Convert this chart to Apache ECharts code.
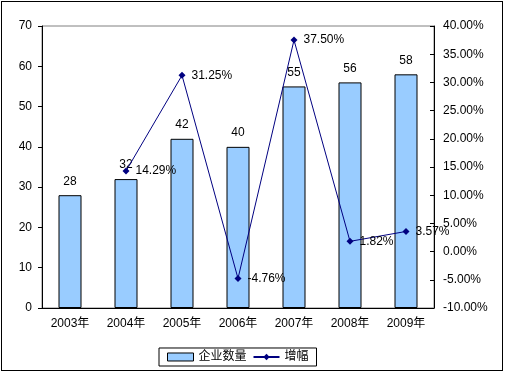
<!DOCTYPE html>
<html><head><meta charset="utf-8">
<script src="https://cdn.jsdelivr.net/npm/echarts@6/dist/echarts.min.js"></script>
<style>html,body{margin:0;padding:0;background:#fff}#c{position:absolute;left:1px;top:1px;width:502px;height:370px;border:1px solid #000;box-sizing:border-box}</style>
</head><body><div id="c"></div>
<script>
var categories = ['2003年','2004年','2005年','2006年','2007年','2008年','2009年'];
var companyCount = [28, 32, 42, 40, 55, 56, 58];
var growth = [null, 14.29, 31.25, -4.76, 37.50, 1.82, 3.57];
var seriesNames = ['企业数量', '增幅'];
var ff = '"Liberation Sans","Noto Sans CJK SC",Arial,sans-serif';
var chart = echarts.init(document.getElementById('c'), null, {renderer:'canvas'});
chart.setOption({
  animation:false,
  textStyle:{fontFamily:ff},
  grid:{left:40,right:68,top:24,bottom:62,show:true,borderColor:'#808080',borderWidth:1,backgroundColor:'transparent'},
  legend:{bottom:4,left:157,itemWidth:26,itemHeight:8,itemGap:6,padding:[3,8],
    borderColor:'#000',borderWidth:1,textStyle:{fontSize:12,color:'#000',fontFamily:ff},
    data:[{name:seriesNames[0],icon:'rect',itemStyle:{borderColor:'#000',borderWidth:1}},{name:seriesNames[1]}]},
  xAxis:{type:'category',data:categories,
    axisLine:{lineStyle:{color:'#000'}},
    axisTick:{inside:true,length:4,lineStyle:{color:'#000'}},
    axisLabel:{color:'#000',fontSize:12,margin:10,fontFamily:ff}},
  yAxis:[
    {type:'value',min:0,max:70,interval:10,position:'left',
     axisLine:{show:true,lineStyle:{color:'#000'}},
     axisTick:{show:true,length:4,lineStyle:{color:'#000'}},
     splitLine:{show:false},
     axisLabel:{color:'#000',fontSize:12,margin:10,fontFamily:ff}},
    {type:'value',min:-10,max:40,interval:5,position:'right',
     axisLine:{show:true,lineStyle:{color:'#000'}},
     axisTick:{show:true,inside:true,length:4,lineStyle:{color:'#000'}},
     splitLine:{show:false},
     axisLabel:{color:'#000',fontSize:12,margin:9,fontFamily:ff,formatter:function(v){return v.toFixed(2)+'%';}}}
  ],
  series:[
    {name:seriesNames[0],type:'bar',data:companyCount,yAxisIndex:0,barWidth:23,
     itemStyle:{color:'#99CCFF',borderColor:'#000',borderWidth:1},
     label:{show:true,position:'top',color:'#000',fontSize:12,distance:8,fontFamily:ff}},
    {name:seriesNames[1],type:'line',data:growth,yAxisIndex:1,
     symbol:'diamond',symbolSize:7,showSymbol:true,
     lineStyle:{color:'#000080',width:1},itemStyle:{color:'#000080'},
     label:{show:true,position:'right',distance:6,color:'#000',fontSize:12,fontFamily:ff,
       formatter:function(p){return p.value.toFixed(2)+'%';}}}
  ]
});
</script></body></html>
